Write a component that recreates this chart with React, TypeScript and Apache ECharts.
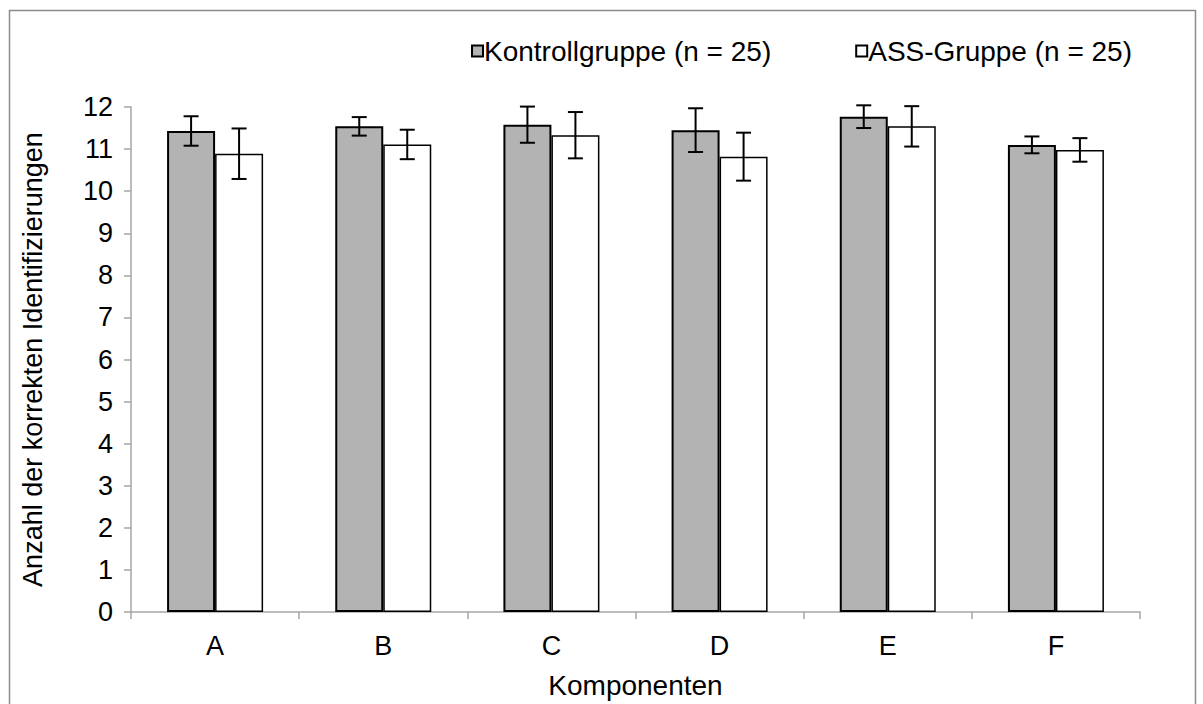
import React, { useEffect, useRef } from "react";
import * as echarts from "echarts";

const categories = ["A", "B", "C", "D", "E", "F"];
const kontrollMeans = [11.43, 11.54, 11.58, 11.45, 11.77, 11.1];
const kontrollErrors = [0.35, 0.22, 0.43, 0.52, 0.27, 0.2];
const assMeans = [10.89, 11.11, 11.33, 10.82, 11.54, 10.98];
const assErrors = [0.6, 0.35, 0.55, 0.57, 0.48, 0.28];
const seriesNames = ["Kontrollgruppe (n = 25)", "ASS-Gruppe (n = 25)"];
const yTitle = "Anzahl der korrekten Identifizierungen";
const xTitle = "Komponenten";

const FONT = "Liberation Sans, Arial, sans-serif";
const FS = 27;

export default function App() {
  const ref = useRef<HTMLDivElement>(null);
  useEffect(() => {
    if (!ref.current) return;
    const chart = echarts.init(ref.current, null, { renderer: "svg" });
    const barFrac = 48 / 168.2;

    const errorSeries = (means: number[], errs: number[], side: number) => ({
      type: "custom",
      z: 10,
      silent: true,
      data: means.map((m, i) => [i, m, errs[i]]),
      renderItem: (params: any, api: any) => {
        const idx = api.value(0);
        const m = api.value(1);
        const e = api.value(2);
        const band = api.size([1, 0])[0];
        const center = api.coord([idx, m]);
        const x = center[0] + side * band * barFrac * 0.5;
        const top = api.coord([idx, m + e])[1];
        const bot = api.coord([idx, m - e])[1];
        const cap = 7.5;
        const style = { stroke: "#000", lineWidth: 2 };
        return {
          type: "group",
          children: [
            { type: "line", shape: { x1: x, y1: top, x2: x, y2: bot }, style },
            { type: "line", shape: { x1: x - cap, y1: top, x2: x + cap, y2: top }, style },
            { type: "line", shape: { x1: x - cap, y1: bot, x2: x + cap, y2: bot }, style },
          ],
        };
      },
    });

    chart.setOption({
      animation: false,
      textStyle: { fontFamily: FONT },
      graphic: [
        {
          type: "rect",
          shape: { x: 9.5, y: 10.5, width: 1186, height: 720 },
          style: { fill: "none", stroke: "#8c8c8c", lineWidth: 1.5 },
          silent: true,
        },
      ],
      legend: {
        right: 66,
        top: 32,
        icon: "rect",
        itemWidth: 11,
        itemHeight: 11,
        itemGap: 84,
        textStyle: { fontSize: 28, color: "#000", fontFamily: FONT, padding: [0, 0, 0, -4] },
        data: seriesNames,
      },
      grid: { left: 131, right: 63, top: 107, bottom: 89, containLabel: false },
      xAxis: {
        type: "category",
        data: categories,
        name: xTitle,
        nameLocation: "middle",
        nameGap: 59,
        nameTextStyle: { fontSize: 28, color: "#000", fontFamily: FONT },
        axisLine: { lineStyle: { color: "#a6a6a6", width: 1.5 } },
        axisTick: { show: true, length: 7, lineStyle: { color: "#a6a6a6", width: 1.5 } },
        axisLabel: { fontSize: FS, color: "#000", margin: 20, fontFamily: FONT },
      },
      yAxis: {
        type: "value",
        min: 0,
        max: 12,
        interval: 1,
        name: yTitle,
        nameLocation: "middle",
        nameGap: 85,
        nameTextStyle: { fontSize: FS, color: "#000", fontFamily: FONT },
        axisLine: { show: true, lineStyle: { color: "#a6a6a6", width: 1.5 } },
        axisTick: { show: true, length: 7, lineStyle: { color: "#a6a6a6", width: 1.5 } },
        axisLabel: { fontSize: FS, color: "#000", margin: 18, fontFamily: FONT },
        splitLine: { show: false },
      },
      series: [
        {
          name: seriesNames[0],
          type: "bar",
          data: kontrollMeans,
          barWidth: 48,
          barGap: "0%",
          itemStyle: { color: "#b3b3b3", borderColor: "#000", borderWidth: 2 },
        },
        {
          name: seriesNames[1],
          type: "bar",
          data: assMeans,
          barWidth: 48,
          barGap: "0%",
          itemStyle: { color: "#ffffff", borderColor: "#000", borderWidth: 1.5 },
        },
        errorSeries(kontrollMeans, kontrollErrors, -1),
        errorSeries(assMeans, assErrors, 1),
      ],
    });
    return () => chart.dispose();
  }, []);
  return (
    <div
      ref={ref}
      style={{ position: "absolute", left: 0, top: 0, width: 1203, height: 704, background: "#fff" }}
    />
  );
}
